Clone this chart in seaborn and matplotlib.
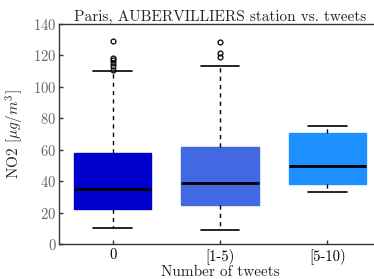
import matplotlib
matplotlib.use("Agg")
import matplotlib.pyplot as plt
import seaborn as sns

# box statistics
categories = ["0", "[1-5)", "[5-10)"]
whislo = [10, 9, 33]
q1 = [22.4, 24.8, 38.4]
medians = [35, 39, 49.6]
q3 = [58.1, 61.5, 70.8]
whishi = [110, 113, 75]
fliers = [
    [129, 118.5, 117, 115.5, 113.5, 111],
    [128.4, 121.4, 119.2],
    [],
]
box_colors = ["#0000CD", "#4169E1", "#1E90FF"]

sns.set_style("ticks")
plt.rcParams["font.family"] = ["cmr10", "DejaVu Serif"]
plt.rcParams["mathtext.fontset"] = "cm"
plt.rcParams["axes.formatter.use_mathtext"] = True

fig = plt.figure(figsize=(3.74, 2.79), dpi=100)
ax = fig.add_axes([0.158, 0.125, 0.861, 0.789])

stats = []
for i, name in enumerate(categories):
    stats.append({
        "label": name,
        "whislo": whislo[i], "q1": q1[i], "med": medians[i],
        "q3": q3[i], "whishi": whishi[i], "fliers": fliers[i],
    })

bp = ax.bxp(stats, positions=range(len(categories)), widths=0.72,
            patch_artist=True, showfliers=True,
            medianprops=dict(color="black", linewidth=2),
            whiskerprops=dict(color="black", linestyle=(0, (3, 3)), linewidth=1),
            capprops=dict(color="black", linewidth=1.2),
            flierprops=dict(marker="o", markersize=3.5, markerfacecolor="none",
                            markeredgecolor="black", markeredgewidth=0.9))
for patch, c in zip(bp["boxes"], box_colors):
    patch.set_facecolor(c)
    patch.set_edgecolor(c)
for cap in bp["caps"]:
    x0, x1 = cap.get_xdata()
    m = (x0 + x1) / 2
    cap.set_xdata([m - 0.18, m + 0.18])

ax.set_xlim(-0.5, 2.5)
ax.set_ylim(0, 140)
ax.set_yticks(range(0, 141, 20))
ax.set_xticks(range(len(categories)))
ax.set_xticklabels(categories)

for side in ["left", "bottom", "top"]:
    ax.spines[side].set_color("#333333")
    ax.spines[side].set_linewidth(1)
ax.spines["right"].set_visible(False)
ax.tick_params(direction="in", length=3, width=1, color="#333333",
               labelsize=10.5, pad=2)
ax.tick_params(axis="y", labelcolor="#666666")
ax.tick_params(axis="x", labelcolor="black", pad=3)

ax.set_title("Paris, AUBERVILLIERS station vs. tweets", fontsize=11, pad=2)
ax.set_xlabel("Number of tweets", fontsize=11, labelpad=1)
ax.set_ylabel(r"NO2 [$\mu g/m^3$]", fontsize=11, labelpad=5)

fig.savefig("out.png", dpi=100)
